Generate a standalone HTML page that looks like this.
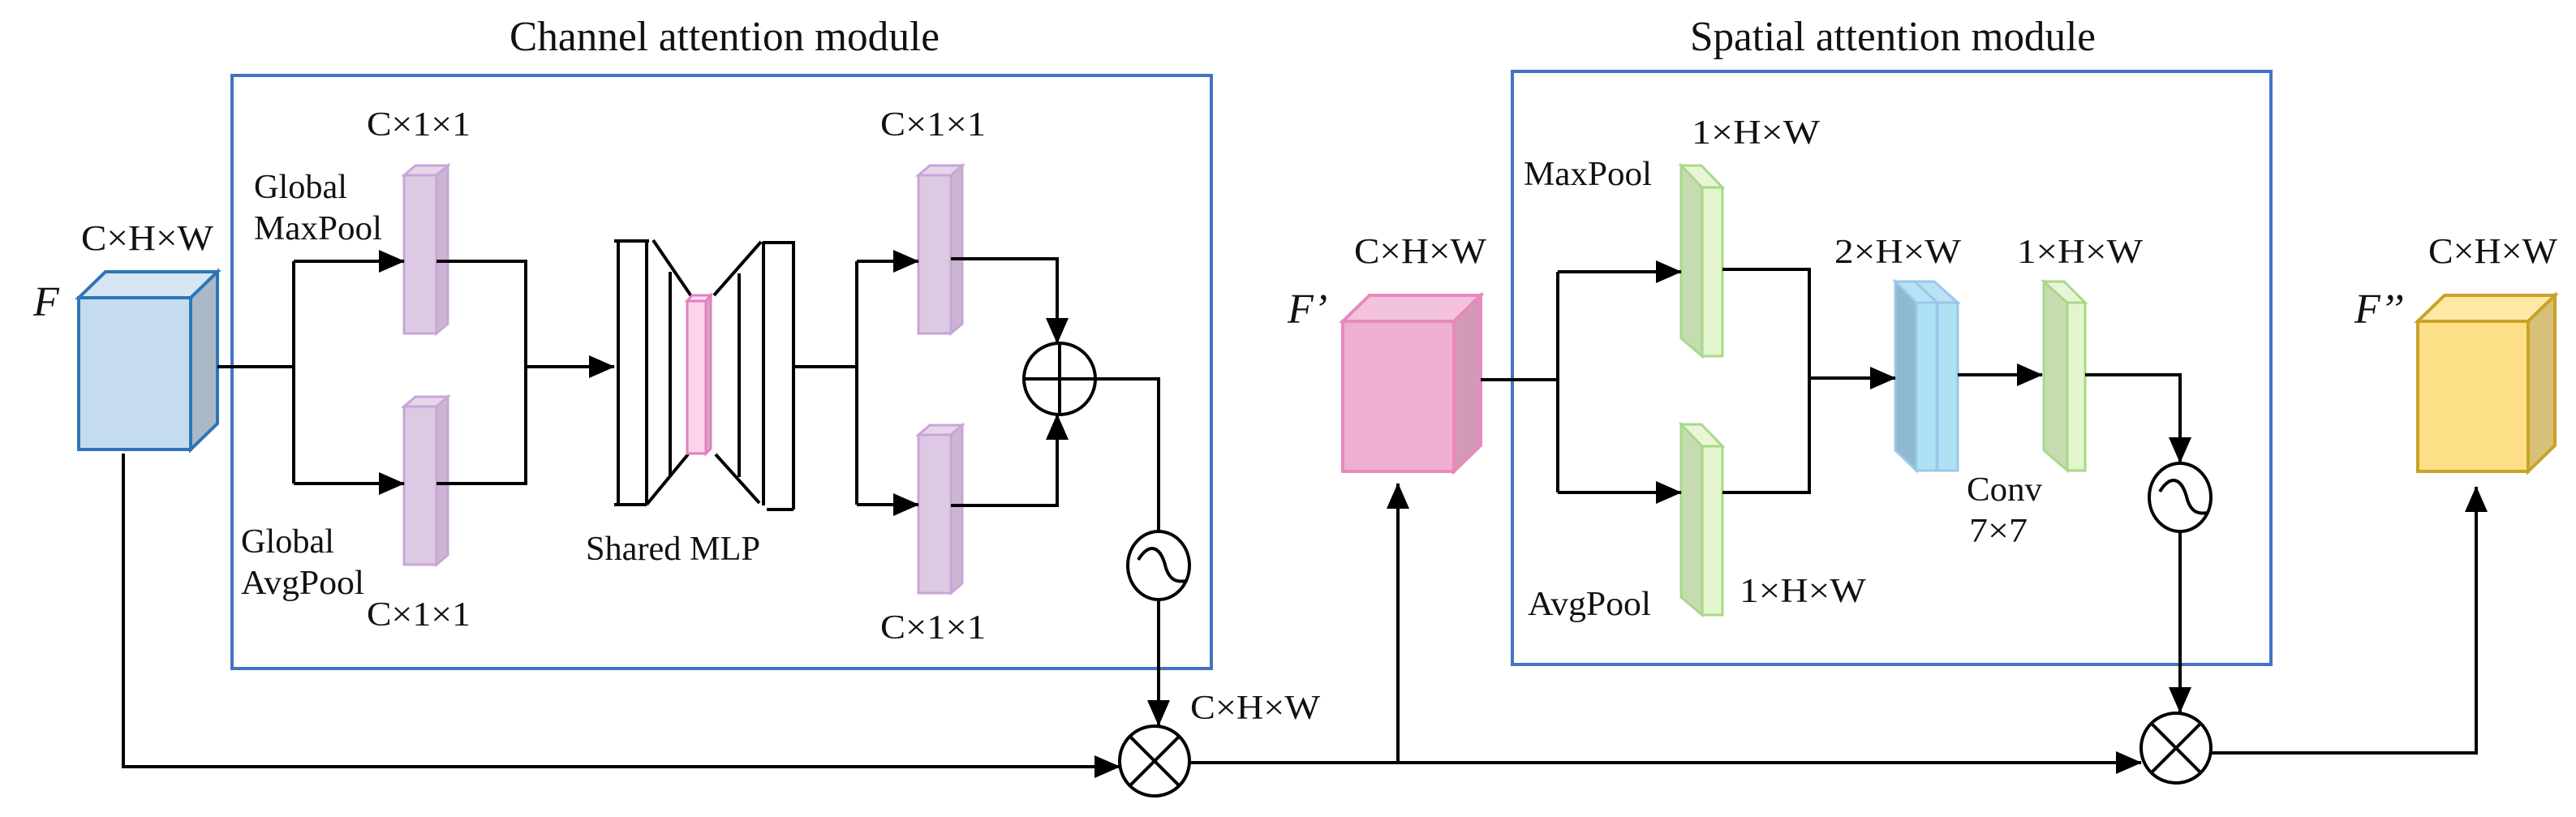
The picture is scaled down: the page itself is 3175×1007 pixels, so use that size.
<!DOCTYPE html>
<html><head><meta charset="utf-8"><style>
html,body{margin:0;padding:0;background:#fff}
svg{display:block}
text{font-family:"Liberation Serif",serif;fill:#111}
</style></head><body>
<svg width="3175" height="1007" viewBox="0 0 3175 1007" xmlns="http://www.w3.org/2000/svg">
<defs>
<marker id="a" markerWidth="10" markerHeight="10" refX="9" refY="5" orient="auto" markerUnits="userSpaceOnUse" viewBox="0 0 10 10" style="overflow:visible">
<path d="M-22,-9 L10,5 L-22,19 Z" fill="#000"/>
</marker>
</defs>
<g stroke="#4472c4" stroke-width="4" fill="none">
<rect x="286" y="93" width="1207" height="731"/>
<rect x="1864" y="88" width="935" height="731"/>
</g>
<text x="628" y="62" font-size="52" textLength="530" lengthAdjust="spacingAndGlyphs">Channel attention module</text>
<text x="2083" y="62" font-size="52" textLength="500" lengthAdjust="spacingAndGlyphs">Spatial attention module</text>

<!-- F cube -->
<g stroke="#2e75b6" stroke-width="4">
<polygon points="97,367 130,335 268,335 235,367" fill="#d6e6f5"/>
<polygon points="235,367 268,335 268,522 235,554" fill="#aab9c7"/>
<rect x="97" y="367" width="138" height="187" fill="#c5dcf0"/>
</g>
<text x="41" y="389" font-size="52" font-style="italic">F</text>
<text x="100" y="308" font-size="44" textLength="163" lengthAdjust="spacingAndGlyphs">C×H×W</text>

<!-- F' cube -->
<g stroke="#e889bd" stroke-width="4">
<polygon points="1655,396 1688,364 1825,364 1792,396" fill="#f3c3dc"/>
<polygon points="1792,396 1825,364 1825,549 1792,581" fill="#d49ab5"/>
<rect x="1655" y="396" width="137" height="185" fill="#efafd0"/>
</g>
<text x="1587" y="398" font-size="52" font-style="italic">F’</text>
<text x="1669" y="324" font-size="44" textLength="163" lengthAdjust="spacingAndGlyphs">C×H×W</text>

<!-- F'' cube -->
<g stroke="#c9a227" stroke-width="4">
<polygon points="2980,396 3013,364 3149,364 3116,396" fill="#fde8a5"/>
<polygon points="3116,396 3149,364 3149,549 3116,581" fill="#d9c07a"/>
<rect x="2980" y="396" width="136" height="185" fill="#fddf88"/>
</g>
<text x="2902" y="398" font-size="52" font-style="italic">F’’</text>
<text x="2993" y="324" font-size="44" textLength="159" lengthAdjust="spacingAndGlyphs">C×H×W</text>

<!-- purple bars -->
<g stroke="#c9a5d6" stroke-width="3">
<g id="pb">
<polygon points="498,216 512,204 552,204 538,216" fill="#e5d6ea"/>
<polygon points="538,216 552,204 552,399 538,411" fill="#cbb5d3"/>
<rect x="498" y="216" width="40" height="195" fill="#ddc9e4"/>
</g>
<use href="#pb" transform="translate(0,285)"/>
<use href="#pb" transform="translate(634,0)"/>
<use href="#pb" transform="translate(634,320)"/>
</g>
<text x="452" y="167" font-size="42" textLength="128" lengthAdjust="spacingAndGlyphs">C×1×1</text>
<text x="452" y="771" font-size="42" textLength="128" lengthAdjust="spacingAndGlyphs">C×1×1</text>
<text x="1085" y="167" font-size="42" textLength="130" lengthAdjust="spacingAndGlyphs">C×1×1</text>
<text x="1085" y="787" font-size="42" textLength="130" lengthAdjust="spacingAndGlyphs">C×1×1</text>
<text x="313" y="244" font-size="42" textLength="115" lengthAdjust="spacingAndGlyphs">Global</text>
<text x="313" y="295" font-size="42" textLength="158" lengthAdjust="spacingAndGlyphs">MaxPool</text>
<text x="297" y="681" font-size="42" textLength="115" lengthAdjust="spacingAndGlyphs">Global</text>
<text x="297" y="732" font-size="42" textLength="152" lengthAdjust="spacingAndGlyphs">AvgPool</text>
<text x="722" y="690" font-size="42" textLength="215" lengthAdjust="spacingAndGlyphs">Shared MLP</text>

<!-- MLP -->
<g stroke="#000" stroke-width="4" fill="none">
<path d="M757,297 H800 M762,297 V624 M757,622 H797 M797,297 V620 M805,296 L852,365 M797,622 L848,560 M826,335 V588"/>
<path d="M880,364 L938,298 M941,298 V623 M911,337 V588 M882,560 L936,620 M978,300 V628 M940,299 H980 M945,628 H978"/>
</g>
<g stroke="#e57ec0" stroke-width="3">
<polygon points="847,371 853,364 876,364 870,371" fill="#fbe0f0"/>
<polygon points="870,371 876,364 876,553 870,559" fill="#c8b0c0"/>
<rect x="847" y="371" width="23" height="188" fill="#fbd3ea"/>
</g>

<!-- green bars -->
<g stroke="#a8d88a" stroke-width="3">
<g id="gb">
<polygon points="2072,204 2098,231 2098,439 2072,417" fill="#c6dbb0"/>
<polygon points="2072,204 2097,204 2123,231 2098,231" fill="#e8f6d6"/>
<rect x="2098" y="231" width="25" height="208" fill="#e2f5cc"/>
</g>
<use href="#gb" transform="translate(0,319)"/>
<polygon points="2519,347 2548,373 2548,580 2519,555" fill="#c6dbb0"/>
<polygon points="2519,347 2544,347 2570,373 2548,373" fill="#e8f6d6"/>
<rect x="2548" y="373" width="22" height="207" fill="#e2f5cc"/>
</g>
<!-- blue stack -->
<g stroke="#9cc6ea" stroke-width="3">
<polygon points="2336,347 2362,373 2362,580 2336,555" fill="#8fb9cf"/>
<polygon points="2336,347 2384,347 2413,373 2362,373" fill="#b9e3f4"/>
<rect x="2362" y="373" width="25" height="207" fill="#ade2f4"/>
<rect x="2388" y="373" width="25" height="207" fill="#ade2f4"/>
<line x1="2360" y1="347" x2="2388" y2="373"/>
</g>
<text x="2085" y="177" font-size="42" textLength="158" lengthAdjust="spacingAndGlyphs">1×H×W</text>
<text x="1878" y="228" font-size="42" textLength="158" lengthAdjust="spacingAndGlyphs">MaxPool</text>
<text x="1883" y="758" font-size="42" textLength="152" lengthAdjust="spacingAndGlyphs">AvgPool</text>
<text x="2144" y="742" font-size="42" textLength="156" lengthAdjust="spacingAndGlyphs">1×H×W</text>
<text x="2261" y="324" font-size="42" textLength="156" lengthAdjust="spacingAndGlyphs">2×H×W</text>
<text x="2486" y="324" font-size="42" textLength="155" lengthAdjust="spacingAndGlyphs">1×H×W</text>
<text x="2424" y="617" font-size="42" textLength="93" lengthAdjust="spacingAndGlyphs">Conv</text>
<text x="2427" y="668" font-size="42" textLength="72" lengthAdjust="spacingAndGlyphs">7×7</text>
<text x="1467" y="886" font-size="42" textLength="160" lengthAdjust="spacingAndGlyphs">C×H×W</text>

<!-- connectors -->
<g stroke="#000" stroke-width="4" fill="none">
<path d="M268,452 H362 M362,322 V596"/>
<path d="M362,322 H498" marker-end="url(#a)"/>
<path d="M362,596 H498" marker-end="url(#a)"/>
<path d="M538,322 H648 V596 H538"/>
<path d="M648,452 H757" marker-end="url(#a)"/>
<path d="M980,452 H1056 M1056,322 V622"/>
<path d="M1056,322 H1132" marker-end="url(#a)"/>
<path d="M1056,622 H1132" marker-end="url(#a)"/>
<path d="M1172,319 H1303 V423" marker-end="url(#a)"/>
<path d="M1172,623 H1303 V511" marker-end="url(#a)"/>
<circle cx="1306" cy="467" r="44"/>
<path d="M1262,467 H1350 M1306,423 V511"/>
<path d="M1350,467 H1428 V655"/>
<ellipse cx="1428" cy="697" rx="38" ry="42"/>
<path d="M1403,690 C1415,670 1430,670 1437,700 C1442,715 1450,718 1462,716"/>
<path d="M1428,739 V894" marker-end="url(#a)"/>
<circle cx="1423" cy="938" r="43"/>
<path d="M1393,908 L1453,968 M1453,908 L1393,968"/>
<path d="M152,559 V945 H1380" marker-end="url(#a)"/>
<path d="M1466,940 H2639" marker-end="url(#a)"/>
<path d="M1723,941 V596" marker-end="url(#a)"/>
<path d="M1825,468 H1920 M1920,335 V607"/>
<path d="M1920,335 H2072" marker-end="url(#a)"/>
<path d="M1920,607 H2072" marker-end="url(#a)"/>
<path d="M2123,332 H2230 V607 H2123"/>
<path d="M2230,466 H2336" marker-end="url(#a)"/>
<path d="M2413,462 H2517" marker-end="url(#a)"/>
<path d="M2570,462 H2687 V570" marker-end="url(#a)"/>
<ellipse cx="2687" cy="613" rx="38" ry="42"/>
<path d="M2662,606 C2674,586 2689,586 2696,616 C2701,631 2709,634 2721,632"/>
<path d="M2687,655 V878" marker-end="url(#a)"/>
<circle cx="2682" cy="922" r="43"/>
<path d="M2652,892 L2712,952 M2712,892 L2652,952"/>
<path d="M2725,928 H3052 V600" marker-end="url(#a)"/>
</g>
</svg>
</body></html>
